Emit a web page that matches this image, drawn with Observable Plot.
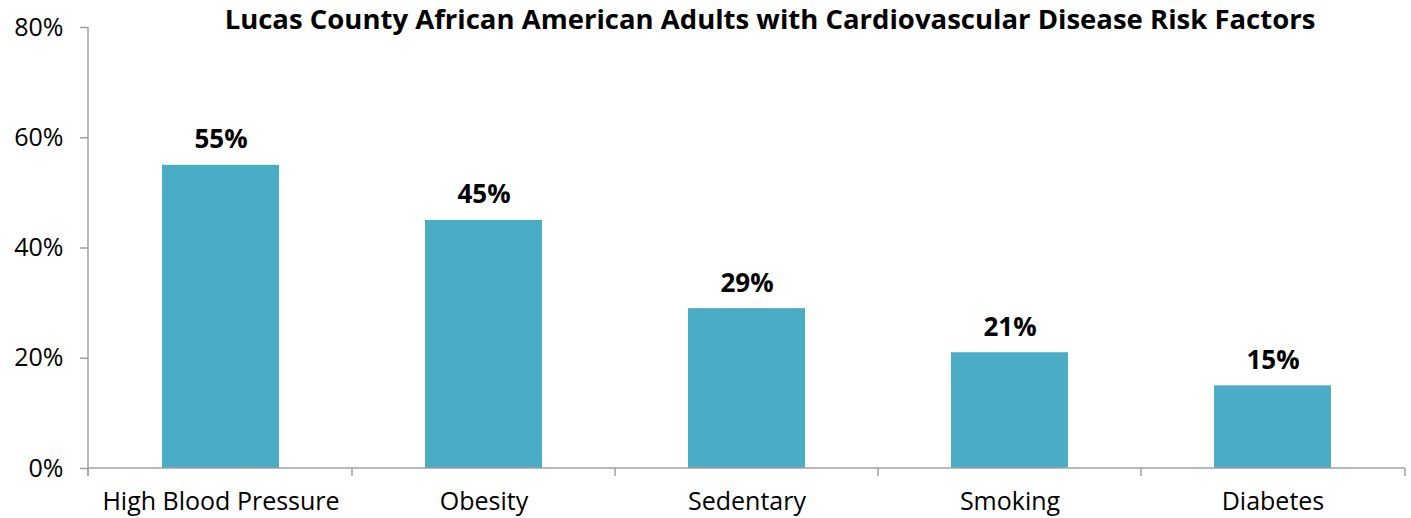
<!DOCTYPE html>
<html>
<head>
<meta charset="utf-8">
<script src="https://cdn.jsdelivr.net/npm/d3@7"></script>
<script src="https://cdn.jsdelivr.net/npm/@observablehq/plot@0.6"></script>
<style>
  html, body { margin: 0; padding: 0; background: #fff; }
  svg { display: block; }
</style>
</head>
<body>
<div id="chart"></div>
<script>
const title = "Lucas County African American Adults with Cardiovascular Disease Risk Factors";
const categories = ["High Blood Pressure", "Obesity", "Sedentary", "Smoking", "Diabetes"];
const values = [55, 45, 29, 21, 15];
const yTicks = [0, 20, 40, 60, 80];

const data = categories.map((c, i) => ({category: c, value: values[i]}));
const axisColor = "#a0a0a0";
const font = "'Open Sans', 'Noto Sans', sans-serif";

function axisLines(index, scales, values, dimensions) {
  const {width, height, marginLeft, marginRight, marginTop, marginBottom} = dimensions;
  const x = scales.x, y = scales.y;
  const g = d3.create("svg:g").attr("stroke", axisColor).attr("stroke-width", 1.5).attr("fill", "none");
  const y0 = y(0), yTop = y(d3.max(yTicks));
  const xl = marginLeft, xr = width - marginRight;
  // y axis line
  g.append("line").attr("x1", xl).attr("x2", xl).attr("y1", yTop).attr("y2", y0 + 8);
  // x axis line
  g.append("line").attr("x1", xl).attr("x2", xr).attr("y1", y0).attr("y2", y0);
  // category boundary ticks
  const bw = x.bandwidth();
  const starts = categories.map(c => x(c));
  const bounds = [xl];
  for (let i = 1; i < starts.length; i++) bounds.push((starts[i - 1] + bw + starts[i]) / 2);
  bounds.push(xr);
  for (const b of bounds) g.append("line").attr("x1", b).attr("x2", b).attr("y1", y0).attr("y2", y0 + 8);
  return g.node();
}

const chart = Plot.plot({
  width: 1411,
  height: 518,
  marginLeft: 88,
  marginRight: 6,
  marginTop: 27,
  marginBottom: 50,
  style: {fontFamily: font, fontSize: "25px", color: "#000", background: "#fff"},
  x: {domain: categories, paddingInner: 0.554, paddingOuter: 0.277, label: null},
  y: {domain: [0, 80], label: null},
  marks: [
    Plot.barY(data, {x: "category", y: "value", fill: "#4BACC6"}),
    Plot.text(data, {x: "category", y: "value", text: d => d.value + "%", lineAnchor: "bottom", dy: -17,
      fontWeight: "bold", fontSize: 26, fill: "#000"}),
    Plot.axisY({ticks: yTicks, tickFormat: d => d + "%", tickSize: 8, tickPadding: 17, stroke: axisColor,
      strokeWidth: 1.5, fontSize: 25, fill: "#000", label: null}),
    Plot.axisX({tickSize: 0, tickPadding: 24, fontSize: 25, fill: "#000", label: null}),
    axisLines,
    Plot.text([title], {frameAnchor: "top", dx: 23, dy: -7, lineAnchor: "middle", fontWeight: "bold",
      fontSize: 27.5, fill: "#000", text: d => d})
  ]
});
document.getElementById("chart").appendChild(chart);
</script>
</body>
</html>
